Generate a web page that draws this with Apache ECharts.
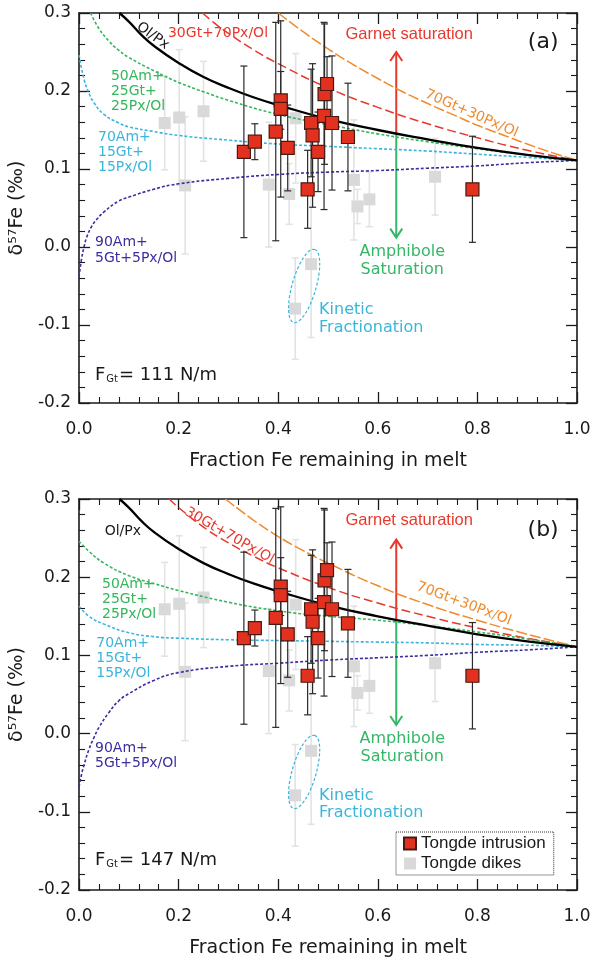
<!DOCTYPE html>
<html>
<head>
<meta charset="utf-8">
<script src="https://cdn.jsdelivr.net/npm/echarts@6/dist/echarts.min.js"></script>
<style>
  html, body { margin: 0; padding: 0; background: #fff; }
  #chart { width: 598px; height: 964px; }
</style>
</head>
<body>
<div id="chart"></div>
<script>
// Tongde intrusion (red squares): fraction Fe, d57Fe, 2SD
const intrusionX = [0.331, 0.353, 0.395, 0.405, 0.405, 0.419, 0.459, 0.466, 0.469, 0.480, 0.492, 0.493, 0.498, 0.508, 0.540, 0.790]
const intrusionY = [0.122, 0.135, 0.148, 0.188, 0.177, 0.127, 0.074, 0.159, 0.143, 0.122, 0.168, 0.196, 0.209, 0.159, 0.141, 0.074]
const intrusionErr = [0.110, 0.023, 0.140, 0.037, 0.113, 0.055, 0.050, 0.069, 0.092, 0.051, 0.120, 0.090, 0.035, 0.086, 0.069, 0.068]

// Tongde dikes (grey squares)
const dikeX = [0.172, 0.201, 0.213, 0.250, 0.381, 0.422, 0.435, 0.434, 0.466, 0.552, 0.559, 0.583, 0.715]
const dikeY = [0.159, 0.166, 0.079, 0.174, 0.080, 0.068, 0.165, -0.079, -0.022, 0.086, 0.052, 0.061, 0.090]
const dikeErr = [0.060, 0.087, 0.088, 0.064, 0.080, 0.039, 0.083, 0.065, 0.094, 0.077, 0.022, 0.035, 0.049]

// model curves
const olPxX = [0.081, 0.1, 0.125, 0.15, 0.2, 0.25, 0.3, 0.35, 0.4, 0.5, 0.6, 0.7, 0.8, 0.9, 1.0]
const olPxY = [0.300, 0.289, 0.272, 0.258, 0.236, 0.218, 0.204, 0.192, 0.182, 0.164, 0.150, 0.138, 0.127, 0.118, 0.111]

const gt30aX = [0.248, 0.27, 0.3, 0.35, 0.4, 0.5, 0.6, 0.7, 0.8, 0.9, 1.0]
const gt30aY = [0.300, 0.288, 0.274, 0.253, 0.235, 0.204, 0.179, 0.158, 0.140, 0.124, 0.111]
const gt30bX = [0.181, 0.2, 0.25, 0.3, 0.35, 0.4, 0.5, 0.6, 0.7, 0.8, 0.9, 1.0]
const gt30bY = [0.300, 0.289, 0.264, 0.244, 0.227, 0.212, 0.187, 0.167, 0.150, 0.135, 0.122, 0.111]

const gt70aX = [0.4, 0.45, 0.5, 0.55, 0.6, 0.65, 0.7, 0.75, 0.8, 0.85, 0.9, 0.95, 1.0]
const gt70aY = [0.300, 0.276, 0.254, 0.234, 0.216, 0.199, 0.184, 0.170, 0.156, 0.144, 0.132, 0.121, 0.111]
const gt70bX = [0.294, 0.35, 0.4, 0.45, 0.5, 0.6, 0.7, 0.8, 0.9, 1.0]
const gt70bY = [0.300, 0.273, 0.252, 0.234, 0.218, 0.189, 0.165, 0.145, 0.127, 0.111]

const am50aX = [0.023, 0.04, 0.06, 0.08, 0.1, 0.15, 0.2, 0.25, 0.3, 0.4, 0.5, 0.6, 0.7, 0.8, 0.9, 1.0]
const am50aY = [0.300, 0.280, 0.264, 0.252, 0.243, 0.226, 0.211, 0.199, 0.188, 0.170, 0.157, 0.145, 0.135, 0.126, 0.118, 0.111]
const am50bX = [0, 0.02, 0.05, 0.1, 0.15, 0.2, 0.3, 0.4, 0.5, 0.6, 0.7, 0.8, 0.9, 1.0]
const am50bY = [0.246, 0.233, 0.218, 0.202, 0.192, 0.183, 0.168, 0.157, 0.150, 0.145, 0.138, 0.130, 0.121, 0.111]

const am70aX = [0, 0.01, 0.02, 0.03, 0.05, 0.08, 0.1, 0.15, 0.2, 0.3, 0.4, 0.5, 0.6, 0.7, 0.8, 0.9, 1.0]
const am70aY = [0.246, 0.215, 0.197, 0.185, 0.170, 0.159, 0.154, 0.148, 0.143, 0.137, 0.132, 0.129, 0.126, 0.123, 0.119, 0.115, 0.111]
const am70bX = [0, 0.02, 0.05, 0.1, 0.15, 0.2, 0.3, 0.4, 0.5, 0.6, 0.7, 0.8, 0.9, 1.0]
const am70bY = [0.163, 0.150, 0.140, 0.129, 0.124, 0.122, 0.120, 0.119, 0.118, 0.117, 0.116, 0.114, 0.113, 0.111]

const am90aX = [0, 0.005, 0.01, 0.015, 0.025, 0.035, 0.05, 0.08, 0.1, 0.15, 0.2, 0.3, 0.4, 0.5, 0.6, 0.7, 0.8, 0.9, 1.0]
const am90aY = [-0.038, -0.015, 0.0, 0.012, 0.026, 0.035, 0.045, 0.059, 0.064, 0.074, 0.081, 0.088, 0.093, 0.096, 0.098, 0.101, 0.104, 0.108, 0.111]
const am90bX = [0, 0.005, 0.01, 0.02, 0.03, 0.04, 0.06, 0.08, 0.1, 0.15, 0.2, 0.3, 0.4, 0.5, 0.6, 0.7, 0.8, 0.9, 1.0]
const am90bY = [-0.068, -0.052, -0.040, -0.020, -0.005, 0.008, 0.027, 0.042, 0.051, 0.068, 0.078, 0.086, 0.090, 0.094, 0.097, 0.100, 0.104, 0.107, 0.111]

// saturation arrows: x, start (on Ol/Px curve), garnet tip, amphibole tip
const arrowX = [0.637, 0.637]
const arrowStart = [0.146, 0.143]
const garnetTip = [0.250, 0.248]
const amphTip = [0.012, 0.011]

// kinetic fractionation ellipse centre
const kineticX = [0.452, 0.452]
const kineticY = [-0.050, -0.049]

const fGt = ['111', '147']

const FONT = 'DejaVu Sans'
const ARIAL = 'Liberation Sans'
const INK = '#1a1a1a'
const C = {
  red: '#e8382c', orange: '#f08a2c', green: '#33b65c', cyan: '#3ab5dc', blue: '#3b2e9e',
  amph: '#35b768', box: '#e2321f', boxEdge: '#4a1a12', grey: '#d9d9d9', greyBar: '#e3e3e3'
}

const zip = (xs, ys) => xs.map((x, i) => [x, ys[i]])

const chart = echarts.init(document.getElementById('chart'), null, { renderer: 'canvas' })

const grids = [
  { left: 76, top: 13, width: 501, height: 390 },
  { left: 76, top: 499, width: 501, height: 391 }
]

function axisBase(g) {
  return {
    gridIndex: g, type: 'value',
    axisLine: { onZero: false, lineStyle: { color: INK, width: 1.6 } },
    axisTick: { inside: true, length: 11, lineStyle: { color: INK, width: 1.3 } },
    minorTick: { show: true, splitNumber: 5, length: 6, lineStyle: { color: INK, width: 1.1 } },
    splitLine: { show: false }
  }
}

const xAxis = []
const yAxis = []
grids.forEach((_, g) => {
  const xb = Object.assign(axisBase(g), { min: 0, max: 1, interval: 0.2 })
  const yb = Object.assign(axisBase(g), { min: -0.2, max: 0.3, interval: 0.1 })
  xAxis.push(Object.assign({}, xb, {
    position: 'bottom',
    name: 'Fraction Fe remaining in melt', nameLocation: 'middle', nameGap: 49,
    nameTextStyle: { fontFamily: FONT, fontSize: 19, color: INK },
    axisLabel: { margin: 18, fontFamily: FONT, fontSize: 17, color: INK, formatter: v => v.toFixed(1) }
  }))
  xAxis.push(Object.assign({}, xb, { position: 'top', axisLabel: { show: false } }))
  yAxis.push(Object.assign({}, yb, {
    position: 'left',
    name: 'δ⁵⁷Fe (‰)', nameLocation: 'middle', nameGap: 40,
    nameTextStyle: { fontFamily: FONT, fontSize: 19, color: INK },
    axisLabel: { margin: 8, fontFamily: FONT, fontSize: 17, color: INK, formatter: v => v.toFixed(1) }
  }))
  yAxis.push(Object.assign({}, yb, { position: 'right', axisLabel: { show: false } }))
})

function curve(g, xs, ys, color, width, dash, z) {
  return {
    type: 'line', xAxisIndex: g * 2, yAxisIndex: g * 2, data: zip(xs, ys),
    showSymbol: false, symbol: 'none', smooth: 0.5,
    lineStyle: { color, width, type: dash }, silent: true, z: z || 3, clip: true
  }
}

function errorBars(g, xs, ys, es, color, width, z) {
  return {
    type: 'custom', xAxisIndex: g * 2, yAxisIndex: g * 2, z, silent: true,
    encode: { x: 0, y: 1 },
    data: xs.map((x, i) => [x, ys[i], es[i]]),
    renderItem(params, api) {
      const x = api.value(0), y = api.value(1), e = api.value(2)
      const hi = api.coord([x, y + e]), lo = api.coord([x, y - e])
      const style = { stroke: color, lineWidth: width, fill: null }
      return {
        type: 'group', children: [
          { type: 'line', shape: { x1: hi[0], y1: hi[1], x2: lo[0], y2: lo[1] }, style },
          { type: 'line', shape: { x1: hi[0] - 3.5, y1: hi[1], x2: hi[0] + 3.5, y2: hi[1] }, style },
          { type: 'line', shape: { x1: lo[0] - 3.5, y1: lo[1], x2: lo[0] + 3.5, y2: lo[1] }, style }
        ]
      }
    }
  }
}

function arrows(g) {
  const cols = [C.red, C.amph]
  return {
    type: 'custom', xAxisIndex: g * 2, yAxisIndex: g * 2, z: 3, silent: true,
    encode: { x: 0, y: 1 },
    data: [[arrowX[g], arrowStart[g], garnetTip[g]], [arrowX[g], arrowStart[g], amphTip[g]]],
    renderItem(params, api) {
      const x = api.value(0)
      const p0 = api.coord([x, api.value(1)]), p1 = api.coord([x, api.value(2)])
      const s = p1[1] < p0[1] ? 1 : -1
      const style = { stroke: cols[params.dataIndex], lineWidth: 2, fill: null }
      return {
        type: 'group', children: [
          { type: 'line', shape: { x1: p0[0], y1: p0[1], x2: p1[0], y2: p1[1] }, style },
          { type: 'polyline', shape: { points: [[p1[0] - 6, p1[1] + s * 9], [p1[0], p1[1]], [p1[0] + 6, p1[1] + s * 9]] }, style }
        ]
      }
    }
  }
}

function kinetic(g) {
  return {
    type: 'custom', xAxisIndex: g * 2, yAxisIndex: g * 2, z: 3, silent: true,
    encode: { x: 0, y: 1 },
    data: [[kineticX[g], kineticY[g]]],
    renderItem(params, api) {
      const c = api.coord([api.value(0), api.value(1)])
      return {
        type: 'path', x: c[0], y: c[1], rotation: -16 * Math.PI / 180,
        shape: { pathData: 'M0,-38 A12,38 0 1,1 0,38 A12,38 0 1,1 0,-38 Z' },
        style: { fill: null, stroke: C.cyan, lineWidth: 1.2, lineDash: [3, 2] }
      }
    }
  }
}

const curvesByPanel = [
  [[olPxX, olPxY], [gt30aX, gt30aY], [gt70aX, gt70aY], [am50aX, am50aY], [am70aX, am70aY], [am90aX, am90aY]],
  [[olPxX, olPxY], [gt30bX, gt30bY], [gt70bX, gt70bY], [am50bX, am50bY], [am70bX, am70bY], [am90bX, am90bY]]
]

const series = []
grids.forEach((_, g) => {
  const cv = curvesByPanel[g]
  series.push(errorBars(g, dikeX, dikeY, dikeErr, C.greyBar, 1.6, 1))
  series.push({
    name: 'Tongde dikes', type: 'scatter', xAxisIndex: g * 2, yAxisIndex: g * 2,
    data: zip(dikeX, dikeY), symbol: 'rect', symbolSize: 12, z: 2,
    itemStyle: { color: C.grey, opacity: 1 }, silent: true
  })
  series.push(curve(g, cv[1][0], cv[1][1], C.red, 1.5, [9, 4]))
  series.push(curve(g, cv[2][0], cv[2][1], C.orange, 1.5, [11, 3]))
  series.push(curve(g, cv[3][0], cv[3][1], C.green, 1.6, [3, 2]))
  series.push(curve(g, cv[4][0], cv[4][1], C.cyan, 1.6, [3, 2]))
  series.push(curve(g, cv[5][0], cv[5][1], C.blue, 1.6, [3, 2]))
  series.push(curve(g, cv[0][0], cv[0][1], '#000', 2.3, 'solid', 4))
  series.push(arrows(g))
  series.push(kinetic(g))
  series.push(errorBars(g, intrusionX, intrusionY, intrusionErr, '#2a2a2a', 1.2, 5))
  series.push({
    name: 'Tongde intrusion', type: 'scatter', xAxisIndex: g * 2, yAxisIndex: g * 2,
    data: zip(intrusionX, intrusionY), symbol: 'rect', symbolSize: 13, z: 6,
    itemStyle: { color: C.box, borderColor: C.boxEdge, borderWidth: 1.2, opacity: 1 }, silent: true
  })
})

chart.setOption({
  animation: false,
  grid: grids,
  xAxis, yAxis, series,
  legend: {
    data: ['Tongde intrusion', 'Tongde dikes'], orient: 'vertical', left: 396, top: 832,
    icon: 'rect', itemWidth: 12, itemHeight: 12, itemGap: 3, padding: [3, 8, 3, 7],
    borderColor: '#333', borderWidth: 1, borderType: 'dotted',
    textStyle: { fontFamily: ARIAL, fontSize: 17, color: INK }, selectedMode: false
  }
})

// text annotations, anchored in data coordinates
const notes = [
  { g: 0, x: 0.148, y: 0.2705, text: 'Ol/Px', color: INK, size: 14, rot: -36 },
  { g: 0, x: 0.279, y: 0.274, text: '30Gt+70Px/Ol', color: C.red, size: 14 },
  { g: 0, x: 0.788, y: 0.171, text: '70Gt+30Px/Ol', color: C.orange, size: 14, rot: -23.6 },
  { g: 1, x: 0.088, y: 0.259, text: 'Ol/Px', color: INK, size: 14 },
  { g: 1, x: 0.302, y: 0.253, text: '30Gt+70Px/Ol', color: C.red, size: 14, rot: -29.6 },
  { g: 1, x: 0.773, y: 0.166, text: '70Gt+30Px/Ol', color: C.orange, size: 14, rot: -20.6 }
]
const labelY = [
  { am50: 0.199, am70: 0.1218, am90: -0.0045, f: -0.164, tag: 0.263, kin: -0.092 },
  { am50: 0.1717, am70: 0.0967, am90: -0.0287, f: -0.1616, tag: 0.260, kin: -0.0907 }
]
const labelX = [{ am50: 0.064, am70: 0.038 }, { am50: 0.046, am70: 0.0346 }]
grids.forEach((_, g) => {
  const ly = labelY[g], lx = labelX[g]
  notes.push(
    { g, x: 0.663, y: 0.2725, text: 'Garnet saturation', color: C.red, size: 16.5, font: ARIAL },
    { g, x: 0.649, y: -0.018, text: 'Amphibole\nSaturation', color: C.amph, size: 16, lh: 18 },
    { g, x: 0.482, y: ly.kin, text: 'Kinetic\nFractionation', color: C.cyan, size: 16, lh: 17.5, align: 'left' },
    { g, x: lx.am50, y: ly.am50, text: '50Am+\n25Gt+\n25Px/Ol', color: C.green, size: 14, lh: 15, align: 'left' },
    { g, x: lx.am70, y: ly.am70, text: '70Am+\n15Gt+\n15Px/Ol', color: C.cyan, size: 14, lh: 15, align: 'left' },
    { g, x: 0.032, y: ly.am90, text: '90Am+\n5Gt+5Px/Ol', color: C.blue, size: 14, lh: 15.5, align: 'left' },
    { g, x: 0.932, y: ly.tag, text: g === 0 ? '(a)' : '(b)', color: INK, size: 22 },
    { g, x: 0.032, y: ly.f, rich: true, text: '{f|F}{s|Gt}{f|= ' + fGt[g] + ' N/m}', color: INK, align: 'left' }
  )
})

const graphic = notes.map(n => {
  const p = chart.convertToPixel({ gridIndex: n.g }, [n.x, n.y])
  const style = {
    text: n.text, fill: n.color, align: n.align || 'center', verticalAlign: 'middle',
    font: (n.size || 14) + 'px "' + (n.font || FONT) + '"'
  }
  if (n.lh) style.lineHeight = n.lh
  if (n.rich) {
    style.rich = {
      f: { fontFamily: FONT, fontSize: 18, fill: INK, color: INK },
      s: { fontFamily: FONT, fontSize: 10, fill: INK, color: INK, verticalAlign: 'bottom', padding: [0, 1, 0, 1] }
    }
  }
  return {
    type: 'text', x: p[0], y: p[1], rotation: (n.rot || 0) * Math.PI / 180,
    silent: true, z: 10, style
  }
})
chart.setOption({ graphic })
</script>
</body>
</html>
